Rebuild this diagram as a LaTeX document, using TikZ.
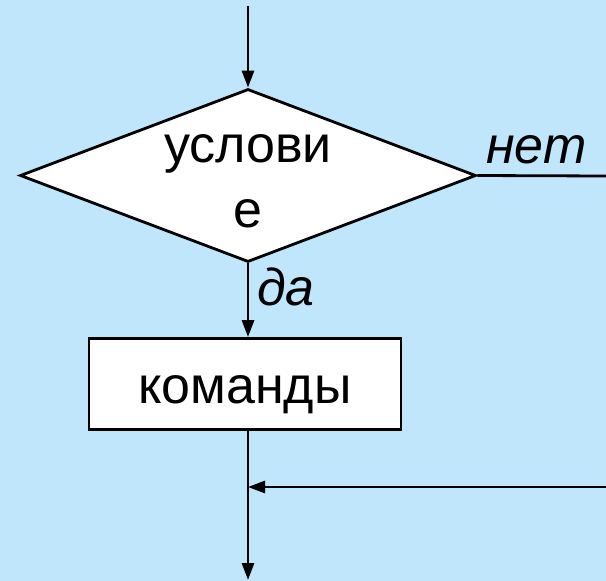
\documentclass[tikz,border=0pt]{standalone}
\usepackage{fontspec}
\setmainfont{Liberation Sans}
\usetikzlibrary{shapes.geometric,arrows.meta}
\definecolor{bg}{RGB}{192,230,252}
\tikzset{
  line/.style={line width=2.8pt, draw=black},
  arr/.style={line, -{Triangle[width=12pt,length=17pt]}},
  lbl/.style={font=\fontsize{52}{62}\selectfont, inner sep=0pt},
}
\begin{document}
\begin{tikzpicture}[x=1pt,y=-1pt]
\fill[bg] (0,0) rectangle (606,581);
\useasboundingbox (0,0) rectangle (606,581);
\node[diamond, line, fill=white, minimum width=456pt, minimum height=173pt, inner sep=0pt] (cond) at (248,175.5) {};
\node[lbl, align=center] (condtext) at (248,181) {услови\\[3pt]е};
\node[rectangle, line, fill=white, minimum width=312pt, minimum height=91pt, inner sep=0pt] (box) at (245,384) {};
\node[lbl, anchor=base] (boxtext) at (245,403) {команды};
\coordinate (start) at (248,6);
\coordinate (netend) at (606,176);
\coordinate (mergefrom) at (606,487);
\coordinate (merge) at (248,487);
\coordinate (end) at (248,580);
\node[lbl, anchor=base west, font=\fontsize{52}{62}\selectfont\itshape] (da) at (257,305) {да};
\node[lbl, anchor=base west, font=\fontsize{52}{62}\selectfont\itshape] (net) at (486,163) {нет};
\draw[arr] (start) -- (cond.north);
\draw[line] (cond.east) -- (netend);
\draw[arr] (cond.south) -- (cond.south |- box.north);
\draw[arr] (cond.south |- box.south) -- (end);
\draw[arr] (mergefrom) -- (merge);
\end{tikzpicture}
\end{document}
